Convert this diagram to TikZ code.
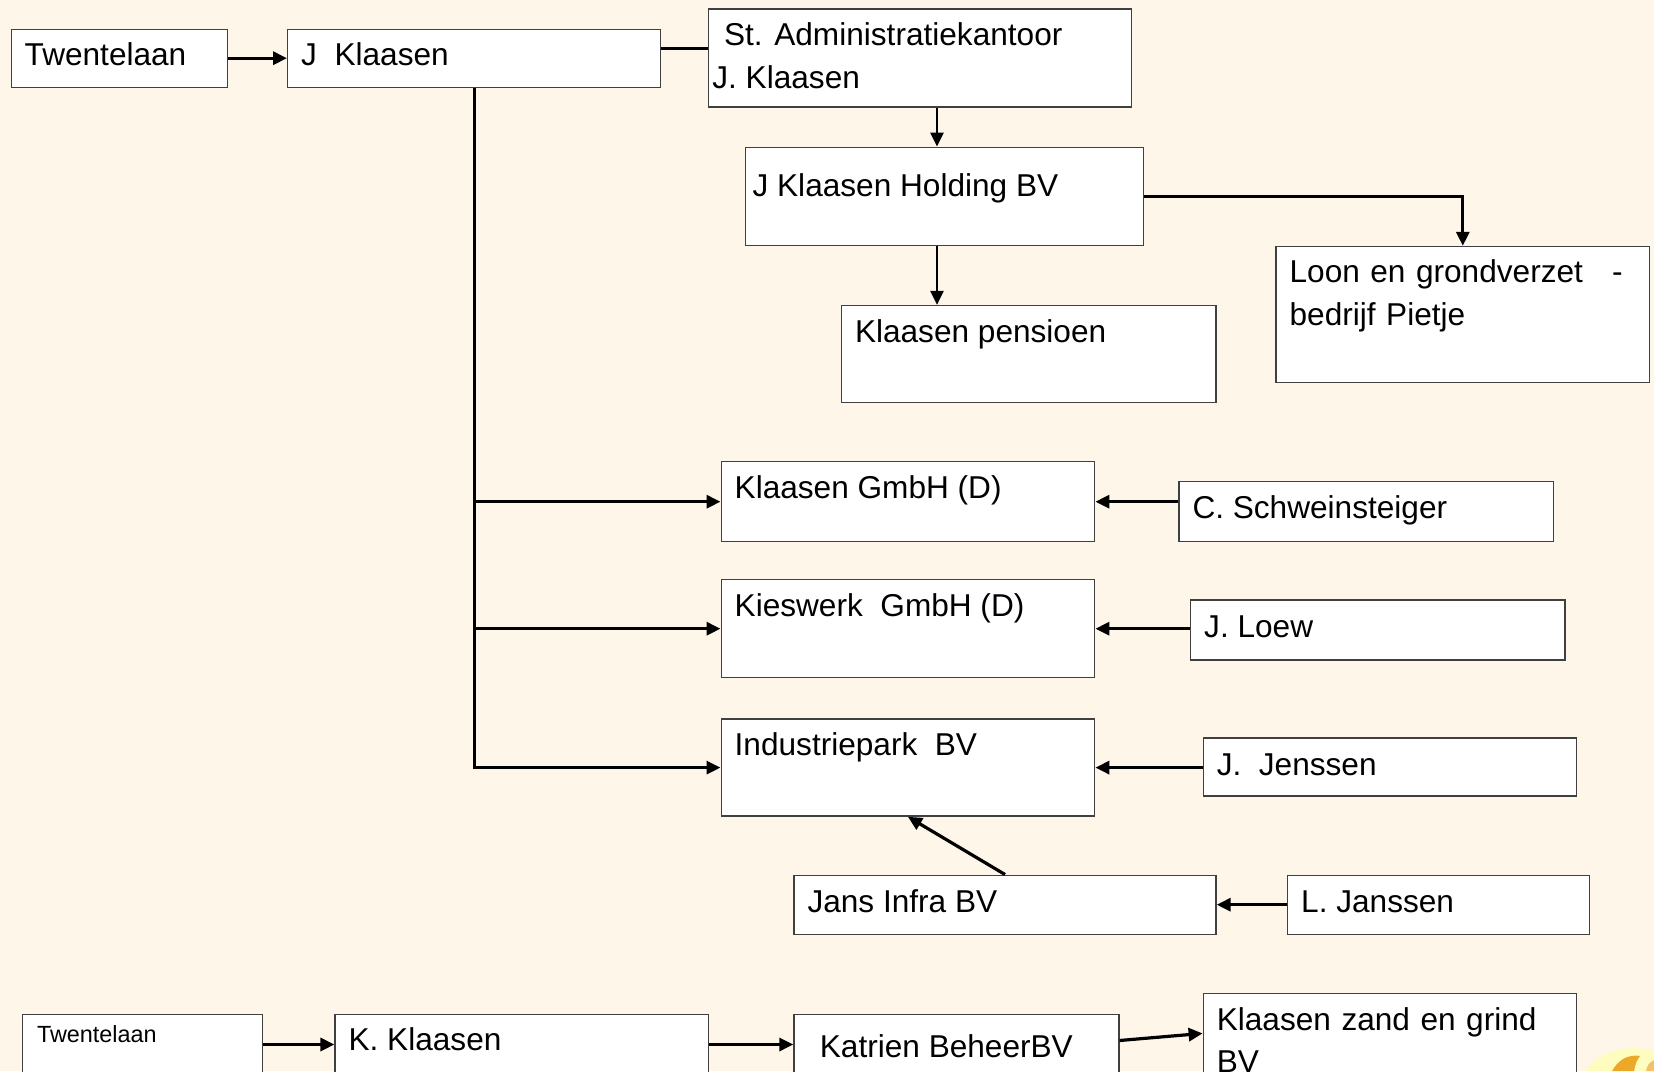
\documentclass[tikz,border=0pt]{standalone}
\usepackage{fontspec}
\setmainfont{Liberation Sans}
\usepackage{tikz}
\usetikzlibrary{arrows.meta,positioning,calc}
\definecolor{paper}{RGB}{255,246,234}
\definecolor{petal}{RGB}{236,168,38}
\newcommand{\firmfont}{\fontsize{31.6pt}{42.5pt}\selectfont}
\newcommand{\smallfirmfont}{\fontsize{23.4pt}{30pt}\selectfont}

\begin{document}
\begin{tikzpicture}[x=1pt,y=-1pt,
    frame/.style={draw=black!75,line width=1.4pt,fill=white,anchor=north west,inner sep=0pt},
    firm/.style={anchor=base west,inner sep=0pt,font=\firmfont},
    link/.style={line width=3.2pt},
    arr/.style={link,-{Triangle[length=14pt,width=13pt]}}]
  \useasboundingbox (0,0) rectangle (1654,1071);
  \clip (0,0) rectangle (1654,1071);
  \fill[paper] (0,0) rectangle (1654,1071);
  % corner decoration
  \fill[yellow!25] (1585,1071) .. controls (1600,1050) and (1625,1045) .. (1654,1050) -- (1654,1071) -- cycle;
  \fill[petal] (1612,1071) .. controls (1618,1060) and (1628,1054) .. (1640,1056) .. controls (1636,1062) .. (1634,1071) -- cycle;
  \fill[petal!70] (1646,1071) .. controls (1648,1064) .. (1654,1060) -- (1654,1071) -- cycle;

  % first group
  \node[frame,minimum width=216pt,minimum height=58pt] (tw) at (10.5,28.5) {};
  \node[firm] (tw-t) at ([xshift=14pt,yshift=-37pt]tw.north west) {Twentelaan};
  \node[frame,minimum width=373pt,minimum height=58pt] (jk) at (287,28.5) {};
  \node[firm] (jk-t) at ([xshift=14pt,yshift=-37pt]jk.north west) {J\ \ Klaasen};
  \node[frame,minimum width=423pt,minimum height=98pt] (stak) at (708,8.4) {};
  \node[firm] (stak-t) at ([xshift=15.8pt,yshift=-36.8pt]stak.north west) {St. Administratiekantoor};
  \node[firm] (stak-u) at ([xshift=4.2pt,yshift=-80pt]stak.north west) {J. Klaasen};
  \node[frame,minimum width=397.5pt,minimum height=98pt] (hold) at (745,146.6) {};
  \node[firm] (hold-t) at ([xshift=7.4pt,yshift=-49.4pt]hold.north west) {J Klaasen Holding BV};
  \node[frame,minimum width=373.4pt,minimum height=136pt] (loon) at (1275.4,245.8) {};
  \node[firm,text width=333pt,align=left] (loon-t) at ([xshift=14pt,yshift=-36.7pt]loon.north west) {Loon en grondverzet\hfill-\\bedrijf Pietje};
  \node[frame,minimum width=374.5pt,minimum height=97pt] (pens) at (840.8,304.9) {};
  \node[firm] (pens-t) at ([xshift=14pt,yshift=-37.7pt]pens.north west) {Klaasen pensioen};

  \node[frame,minimum width=373.5pt,minimum height=80pt] (gmbh) at (720.5,461) {};
  \node[firm] (gmbh-t) at ([xshift=14pt,yshift=-37.8pt]gmbh.north west) {Klaasen GmbH (D)};
  \node[frame,minimum width=374.5pt,minimum height=60pt] (cs) at (1178.3,481) {};
  \node[firm] (cs-t) at ([xshift=14pt,yshift=-37.8pt]cs.north west) {C. Schweinsteiger};
  \node[frame,minimum width=373.5pt,minimum height=98pt] (kies) at (720.5,579) {};
  \node[firm] (kies-t) at ([xshift=14pt,yshift=-37.9pt]kies.north west) {Kieswerk\ \ GmbH (D)};
  \node[frame,minimum width=374.4pt,minimum height=60pt] (loew) at (1190,599.2) {};
  \node[firm] (loew-t) at ([xshift=14pt,yshift=-37.8pt]loew.north west) {J. Loew};
  \node[frame,minimum width=373.5pt,minimum height=97pt] (ip) at (720.5,718.4) {};
  \node[firm] (ip-t) at ([xshift=14pt,yshift=-36.7pt]ip.north west) {Industriepark\ \ BV};
  \node[frame,minimum width=373.4pt,minimum height=58pt] (jj) at (1202.6,737.4) {};
  \node[firm] (jj-t) at ([xshift=14pt,yshift=-37.7pt]jj.north west) {J.\ \ Jenssen};
  \node[frame,minimum width=422pt,minimum height=59pt] (jinfra) at (793.3,874.5) {};
  \node[firm] (jinfra-t) at ([xshift=14pt,yshift=-37.8pt]jinfra.north west) {Jans Infra BV};
  \node[frame,minimum width=301.7pt,minimum height=59pt] (lj) at (1287,874.5) {};
  \node[firm] (lj-t) at ([xshift=14pt,yshift=-37.8pt]lj.north west) {L. Janssen};

  % second group
  \node[frame,minimum width=239.6pt,minimum height=60pt] (tw2) at (22,1013.8) {};
  \node[firm,font=\smallfirmfont] (tw2-t) at ([xshift=14.8pt,yshift=-28.4pt]tw2.north west) {Twentelaan};
  \node[frame,minimum width=373.4pt,minimum height=60pt] (kk) at (334.4,1013.8) {};
  \node[firm] (kk-t) at ([xshift=14pt,yshift=-36.6pt]kk.north west) {K. Klaasen};
  \node[frame,minimum width=324.9pt,minimum height=60pt] (kat) at (793.3,1013.8) {};
  \node[firm] (kat-t) at ([xshift=26.4pt,yshift=-44.1pt]kat.north west) {Katrien BeheerBV};
  \node[frame,minimum width=373.4pt,minimum height=96pt] (zand) at (1202.6,992.7) {};
  \node[firm,text width=355pt,align=left] (zand-t) at ([xshift=14pt,yshift=-37.7pt]zand.north west) {Klaasen zand en grind\\BV};

  % connectors
  \coordinate (spine) at (937,0);
  \draw[arr] (tw.east) -- (jk.west);
  \draw[link] ([yshift=10pt]jk.east) -- ([yshift=10pt]jk.east -| stak.west);
  \draw[arr,line width=2.6pt] (stak.south -| spine) -- (hold.north -| spine);
  \draw[arr,line width=2.6pt] (hold.south -| spine) -- (pens.north -| spine);
  \draw[arr] (hold.east) -| (loon.north);
  \draw[arr] (jk.south) |- (ip.west);
  \draw[arr] (jk.south |- gmbh.west) -- (gmbh.west);
  \draw[arr] (jk.south |- kies.west) -- (kies.west);
  \draw[arr] (cs.west |- gmbh.east) -- (gmbh.east);
  \draw[arr] (loew.west |- kies.east) -- (kies.east);
  \draw[arr] (jj.west |- ip.east) -- (ip.east);
  \draw[arr] (lj.west) -- (jinfra.east);
  \draw[arr] (jinfra.north) -- (ip.south);
  \draw[arr] (tw2.east) -- (kk.west);
  \draw[arr] (kk.east) -- (kat.west);
  \draw[arr] ([yshift=4pt]kat.east) -- ([yshift=8pt]zand.west);
\end{tikzpicture}
\end{document}
